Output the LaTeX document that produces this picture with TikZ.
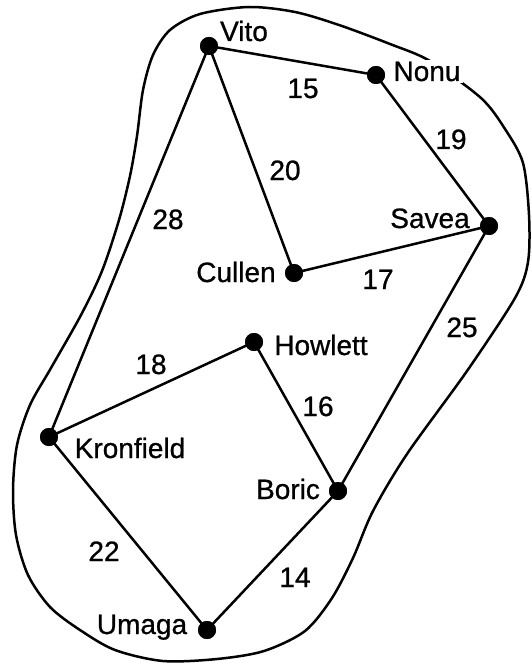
\documentclass[tikz,border=0pt]{standalone}
\usepackage{fontspec}
\setmainfont{Liberation Sans}[FakeBold=0.6]
\newfontfamily\lblfont{Liberation Sans}[FakeBold=0.8]
\begin{document}
\begin{tikzpicture}[x=1pt,y=-1pt,
  dot/.style={circle,fill=black,inner sep=0pt,minimum size=18pt},
  lbl/.style={inner sep=0pt,anchor=base,font=\lblfont\fontsize{28}{32}\selectfont},
  edge/.style={line width=2.5pt},
  outline/.style={line width=2.5pt}]
\useasboundingbox (0,0) rectangle (531,663);
% outline
\draw[outline] plot[smooth cycle, tension=0.5] coordinates {
 (249,7) (200,14) (170,30) (153,55) (143,90) (137,136) (130,176) (119,220)
 (102,271) (81,315) (51,368) (30,405) (17,445) (13,490) (16,535) (28,575)
 (50,607) (80,630) (115,650) (163,661) (217,659) (264,651) (305,631) (332,598)
 (353,558) (373,511) (407,454) (467,371) (515,298)
 (528,262) (529,215) (523,163) (505,129) (481,98) (430,61)
 (390,44) (339,25) (295,12)};
% dots
\node[dot] (vito) at (209,46) {};
\node[dot] (nonu) at (376,75) {};
\node[dot] (savea) at (489,226) {};
\node[dot] (cullen) at (294,273) {};
\node[dot] (howlett) at (254,342) {};
\node[dot] (kronfield) at (49,437) {};
\node[dot] (boric) at (338,491) {};
\node[dot] (umaga) at (207,630) {};
% edges
\draw[edge] (vito.center) -- (nonu.center);
\draw[edge] (nonu.center) -- (savea.center);
\draw[edge] (vito.center) -- (cullen.center);
\draw[edge] (cullen.center) -- (savea.center);
\draw[edge] (vito.center) -- (kronfield.center);
\draw[edge] (savea.center) -- (boric.center);
\draw[edge] (kronfield.center) -- (howlett.center);
\draw[edge] (howlett.center) -- (boric.center);
\draw[edge] (kronfield.center) -- (umaga.center);
\draw[edge] (boric.center) -- (umaga.center);
% redraw dots on top
\foreach \n in {vito,nonu,savea,cullen,howlett,kronfield,boric,umaga}
  \fill (\n.center) circle (9pt);
% node labels
\node[lbl] (lvito) at (244,41) {Vito};
\node[lbl,fill=white,inner xsep=3pt,inner ysep=2pt] (lnonu) at (427,81) {Nonu};
\node[lbl] (lsavea) at (430,228) {Savea};
\node[lbl] (lcullen) at (236,282) {Cullen};
\node[lbl] (lhowlett) at (321,355) {Howlett};
\node[lbl] (lkron) at (130,458) {Kronfield};
\node[lbl] (lboric) at (288,499) {Boric};
\node[lbl] (lumaga) at (142,634) {Umaga};
% edge labels
\node[lbl] (w15) at (303,98) {15};
\node[lbl] (w19) at (451,149) {19};
\node[lbl] (w20) at (285,180) {20};
\node[lbl] (w28) at (168,229) {28};
\node[lbl] (w17) at (378,289) {17};
\node[lbl] (w25) at (462,337) {25};
\node[lbl] (w18) at (151,374) {18};
\node[lbl] (w16) at (318,416) {16};
\node[lbl] (w22) at (104,561) {22};
\node[lbl] (w14) at (295,587) {14};
\end{tikzpicture}
\end{document}
